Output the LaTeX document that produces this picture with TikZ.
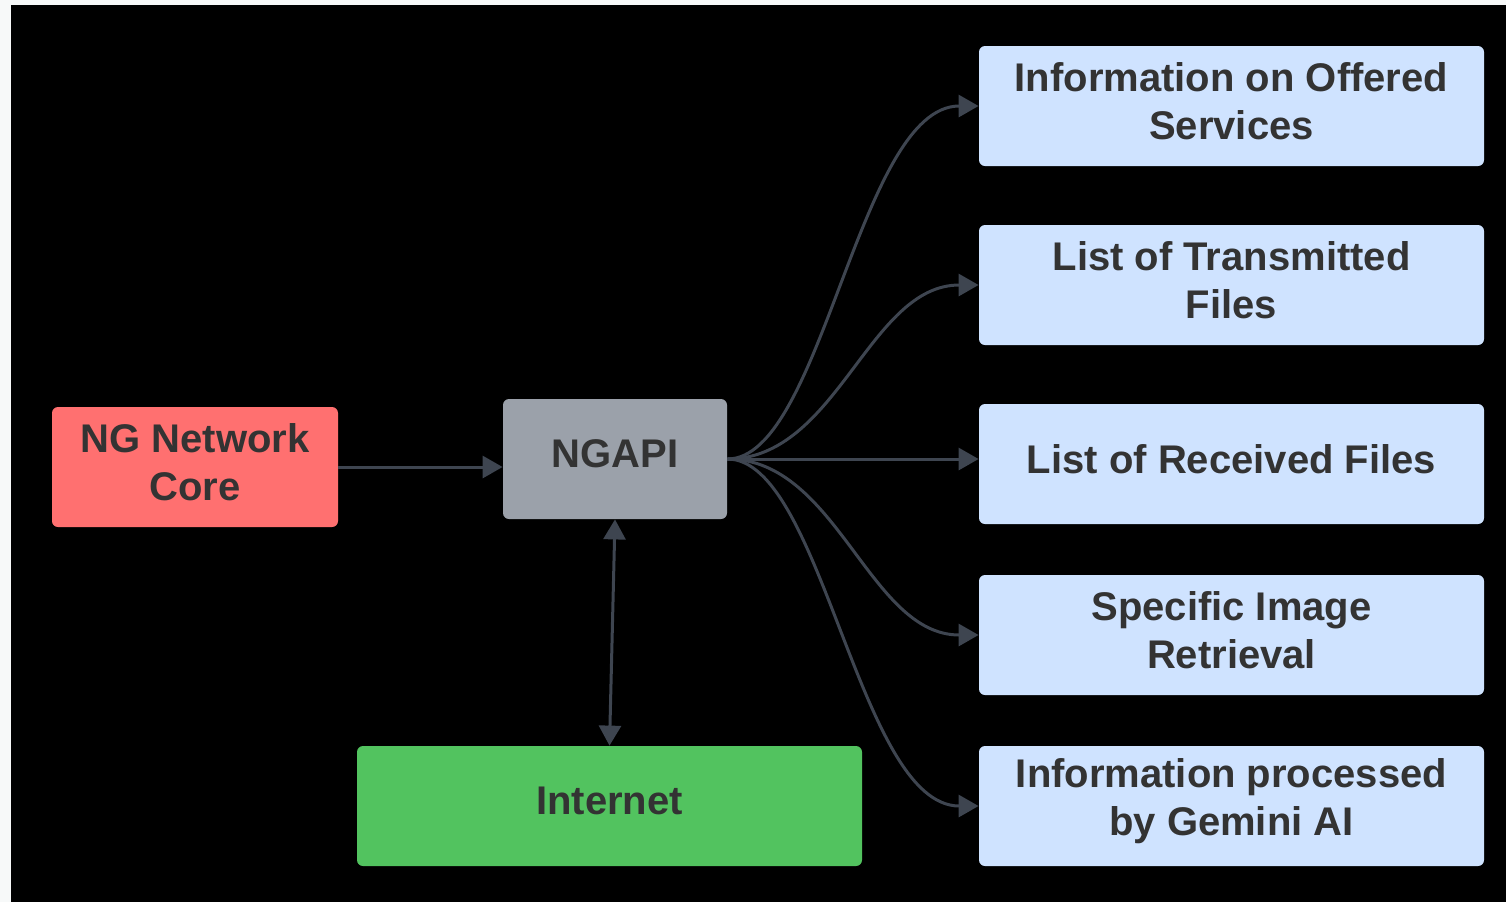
\documentclass[tikz,border=0pt]{standalone}
\usepackage{fontspec}
\setmainfont{Liberation Sans}
\usetikzlibrary{arrows.meta,calc}

\definecolor{pagebg}{HTML}{F7F9F9}
\definecolor{corered}{HTML}{FF7070}
\definecolor{apigray}{HTML}{9BA1AA}
\definecolor{netgreen}{HTML}{52C35F}
\definecolor{infoblue}{HTML}{CFE3FF}
\definecolor{wire}{HTML}{3E4550}
\definecolor{labeltext}{HTML}{333333}

\tikzset{
  box/.style={rounded corners=3pt, inner sep=0pt, minimum height=60pt},
  boxlabel/.style={inner sep=0pt, align=center, yshift=2.5pt,
    font=\bfseries\fontsize{20}{24}\selectfont, text=labeltext},
  link/.style={draw=wire, line width=1.5pt,
    -{Triangle[length=10pt,width=11pt]}},
  duallink/.style={draw=wire, line width=1.5pt,
    {Triangle[length=10pt,width=11pt]}-{Triangle[length=10pt,width=11pt]}},
}

\begin{document}
\begin{tikzpicture}[x=0.5pt,y=-0.5pt]
  % canvas
  \useasboundingbox (0,0) rectangle (1506,902);
  \fill[pagebg] (0,0) rectangle (1506,902);
  \fill[black] (11,5) rectangle (1506,902);

  % nodes
  \node[box, fill=corered, minimum width=143pt,
    label={[boxlabel]center:{NG Network\\Core}}] (core) at (195,467) {};
  \node[box, fill=apigray, minimum width=112pt,
    label={[boxlabel]center:NGAPI}] (ngapi) at (615,459) {};
  \node[box, fill=netgreen, minimum width=252.5pt,
    label={[boxlabel]center:Internet}] (inet) at (609.5,806) {};

  \node[box, fill=infoblue, minimum width=252.5pt,
    label={[boxlabel]center:{Information on Offered\\Services}}] (b1) at (1231.5,106) {};
  \node[box, fill=infoblue, minimum width=252.5pt,
    label={[boxlabel]center:{List of Transmitted\\Files}}] (b2) at (1231.5,285) {};
  \node[box, fill=infoblue, minimum width=252.5pt,
    label={[boxlabel]center:List of Received Files}] (b3) at (1231.5,464) {};
  \node[box, fill=infoblue, minimum width=252.5pt,
    label={[boxlabel]center:{Specific Image\\Retrieval}}] (b4) at (1231.5,635) {};
  \node[box, fill=infoblue, minimum width=252.5pt,
    label={[boxlabel]center:{Information processed\\by Gemini AI}}] (b5) at (1231.5,806) {};

  % connectors
  \draw[link] (core.east) -- (core.east -| ngapi.west);
  \draw[duallink] (ngapi.south) -- (inet.north);

  \draw[link] (ngapi.east) .. controls ($(ngapi.east)+(95,0)$) and ($(b1.west)+(-120,0)$) .. (b1.west);
  \draw[link] (ngapi.east) .. controls ($(ngapi.east)+(110,0)$) and ($(b2.west)+(-110,0)$) .. (b2.west);
  \draw[link] (ngapi.east) -- (ngapi.east -| b3.west);
  \draw[link] (ngapi.east) .. controls ($(ngapi.east)+(110,0)$) and ($(b4.west)+(-110,0)$) .. (b4.west);
  \draw[link] (ngapi.east) .. controls ($(ngapi.east)+(95,0)$) and ($(b5.west)+(-120,0)$) .. (b5.west);
\end{tikzpicture}
\end{document}
